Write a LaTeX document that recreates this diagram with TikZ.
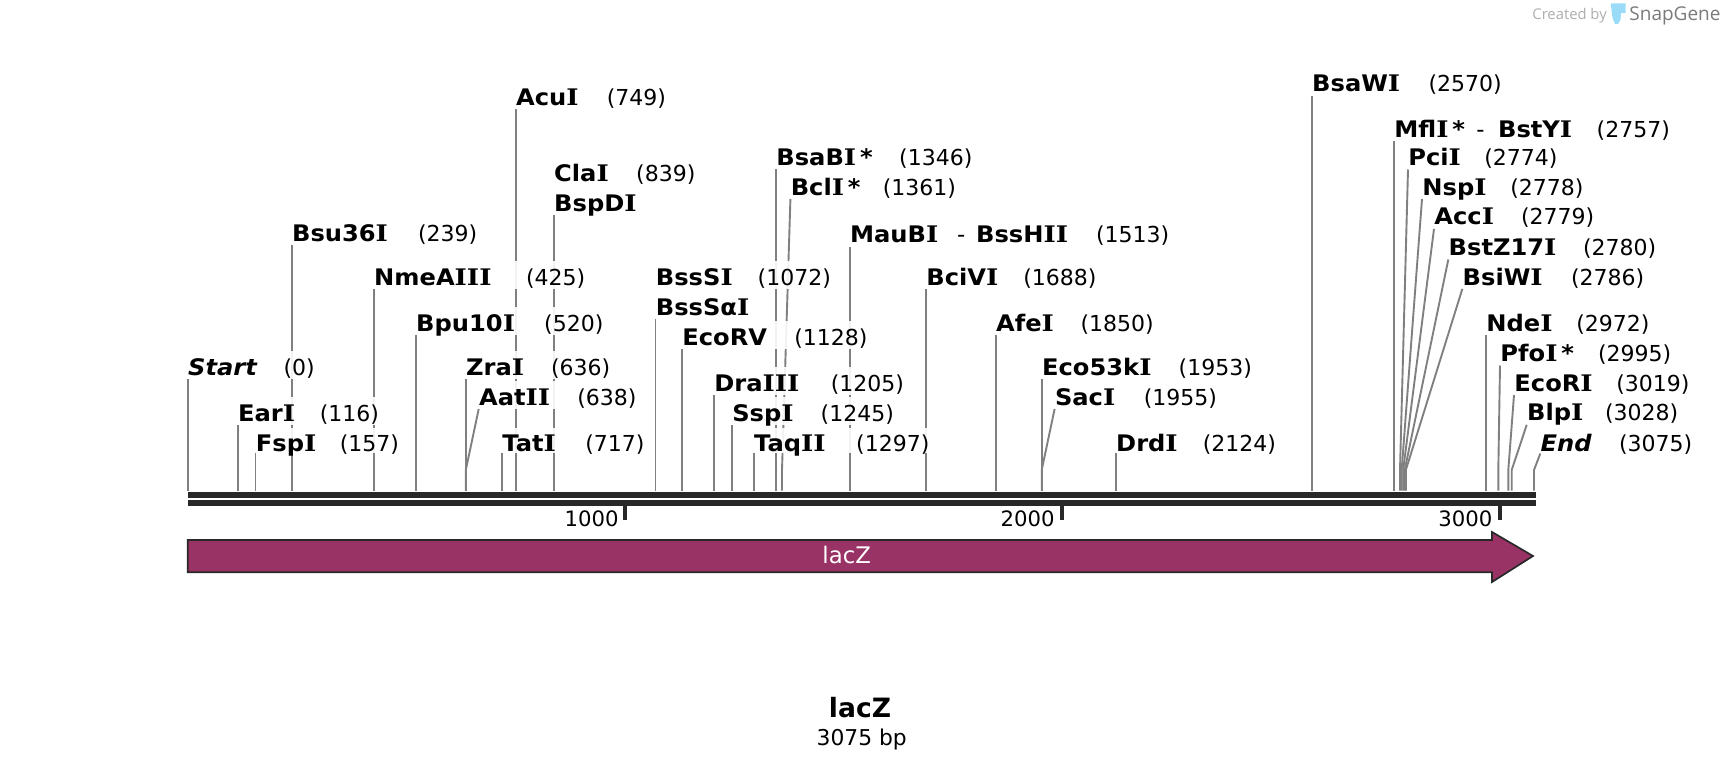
\documentclass[tikz,border=0pt]{standalone}
\usepackage{fontspec}
\usepackage{tikz}
\usetikzlibrary{backgrounds}
\setmainfont{DejaVu Sans}
\newfontfamily\namefont{DejaVu Sans}[BoldFeatures={FakeStretch=1.06},BoldItalicFeatures={FakeStretch=1.06}]
\newfontfamily\slabfont{DejaVu Serif}[BoldFeatures={FakeStretch=1.15}]
\newfontfamily\markfont{Open Sans}
\newlength{\pxu}
\setlength{\pxu}{0.5pt}
\definecolor{barcol}{HTML}{282828}
\definecolor{cutcol}{HTML}{808080}
\definecolor{lacz}{HTML}{993366}
\definecolor{iconcol}{HTML}{9ADCF8}
\newcommand{\vI}{{\slabfont\bfseries I}}
\newcommand{\nm}[1]{{\namefont\fontsize{11.4}{12}\selectfont\bfseries #1}}
\newcommand{\lab}[3]{\makebox[#3\pxu][l]{\nm{#1}}(#2)}
\tikzset{
	site/.style={anchor=south west,fill=white,fill opacity=0.9,text opacity=1,inner sep=0pt,text height=11.9pt,text depth=1.75pt,font=\fontsize{11}{12}\selectfont},
	lowsite/.style={site,text depth=0.6pt},
	rulerlab/.style={anchor=base east,inner sep=0pt,font=\fontsize{10.6}{12}\selectfont},
	cut/.style={draw=cutcol,line width=0.95pt},
	tickline/.style={draw=barcol,line width=2pt}
}

\begin{document}
\begin{tikzpicture}[x=0.5pt,y=-0.5pt]

	\useasboundingbox (0,0) rectangle (1724,770);

	% sites
	\node[site] (start) at (187.7,379) {\lab{\itshape Start}{0}{95.5}};
	\node[site] (ear) at (237.7,425) {\lab{Ear\vI}{116}{81.7}};
	\node[lowsite] (fsp) at (255.5,453) {\lab{Fsp\vI}{157}{84}};
	\node[site] (bsu) at (291.7,245) {\lab{Bsu36\vI}{239}{125.9}};
	\node[site] (nme) at (373.8,289) {\lab{NmeA\vI\vI\vI}{425}{151.8}};
	\node[site] (bpu) at (415.8,335) {\lab{Bpu10\vI}{520}{128}};
	\node[site] (zra) at (465.8,379) {\lab{Zra\vI}{636}{84.8}};
	\node[site] (aat) at (478.7,409) {\lab{Aat\vI\vI}{638}{98.2}};
	\node[lowsite] (tat) at (502,453) {\lab{Tat\vI}{717}{83}};
	\node[site] (acu) at (515.8,109) {\lab{Acu\vI}{749}{90.6}};
	\node[site] (cla) at (553.8,185) {\lab{Cla\vI}{839}{82}};
	\node[site] (bspd) at (553.8,215) {\nm{BspD\vI}};
	\node[site] (bsss) at (655.5,289) {\lab{BssS\vI}{1072}{101.8}};
	\node[site] (bssa) at (655.5,319) {\nm{BssSα\vI}};
	\node[site] (ecov) at (681.9,349) {\lab{EcoRV}{1128}{112}};
	\node[site] (dra) at (714,395) {\lab{Dra\vI\vI\vI}{1205}{116.5}};
	\node[site] (ssp) at (731.9,425) {\lab{Ssp\vI}{1245}{88.4}};
	\node[lowsite] (taq) at (753.8,453) {\lab{Taq\vI\vI}{1297}{102}};
	\node[site] (bsab) at (776,169) {\lab{BsaB\vI\,*}{1346}{122.8}};
	\node[site] (bcl) at (790.4,199) {\lab{Bcl\vI\,*}{1361}{92}};
	\node[site] (mau) at (849.7,246.7) {\lab{\makebox[107\pxu][l]{MauB\vI}\makebox[19\pxu][l]{\mdseries -}BssH\vI\vI}{1513}{246}};
	\node[site] (bci) at (926,289) {\lab{BciV\vI}{1688}{96.9}};
	\node[site] (afe) at (995.7,335) {\lab{Afe\vI}{1850}{84.4}};
	\node[site] (ecok) at (1041.7,379) {\lab{Eco53k\vI}{1953}{136.6}};
	\node[site] (sac) at (1054.6,409) {\lab{Sac\vI}{1955}{88.8}};
	\node[lowsite] (drd) at (1115.8,453) {\lab{Drd\vI}{2124}{86.6}};
	\node[site] (bsaw) at (1311.8,95.6) {\lab{BsaW\vI}{2570}{116.3}};
	\node[site] (mfl) at (1394,141) {\lab{\makebox[82\pxu][l]{Mfl\vI\,*}\makebox[21.7\pxu][l]{\mdseries -}BstY\vI}{2757}{202.3}};
	\node[site] (pci) at (1408,169.5) {\lab{Pci\vI}{2774}{76}};
	\node[site] (nsp) at (1422,199) {\lab{Nsp\vI}{2778}{88}};
	\node[site] (acc) at (1434,228.9) {\lab{Acc\vI}{2779}{86.7}};
	\node[site] (bstz) at (1448.3,259.5) {\lab{BstZ17\vI}{2780}{134.3}};
	\node[site] (bsiw) at (1462.3,289) {\lab{BsiW\vI}{2786}{108.3}};
	\node[site] (nde) at (1486,335) {\lab{Nde\vI}{2972}{90}};
	\node[site] (pfo) at (1500,365.5) {\lab{Pfo\vI\,*}{2995}{97.7}};
	\node[site] (ecoi) at (1514,395) {\lab{EcoR\vI}{3019}{102}};
	\node[site] (blp) at (1526.7,424.8) {\lab{Blp\vI}{3028}{78}};
	\node[lowsite] (end) at (1540.3,453.5) {\lab{\itshape End}{3075}{78.3}};

	% feet and knees of the slanted cuts
	\coordinate (foot) at (0,490.7);
	\coordinate (aatk) at (465.8,470);
	\coordinate (bclk) at (782,470);
	\coordinate (sack) at (1041.7,470);
	\coordinate (pcik) at (1400,469.5);
	\coordinate (nspk) at (1401.7,469.5);
	\coordinate (acck) at (1403.2,469.5);
	\coordinate (bstk) at (1404.8,469.5);
	\coordinate (bsik) at (1406,469.5);
	\coordinate (pfok) at (1498.3,470);
	\coordinate (ecok2) at (1508.3,470);
	\coordinate (blpk) at (1511.7,470);
	\coordinate (endk) at (1534,470);

	\begin{pgfonlayer}{background}
	\draw[cut] (start.south west) -- (start.south west |- foot);
	\draw[cut] (ear.south west) -- (ear.south west |- foot);
	\draw[cut] (fsp.south west) -- (fsp.south west |- foot);
	\draw[cut] (bsu.south west) -- (bsu.south west |- foot);
	\draw[cut] (nme.south west) -- (nme.south west |- foot);
	\draw[cut] (bpu.south west) -- (bpu.south west |- foot);
	\draw[cut] (zra.south west) -- (zra.south west |- foot);
	\draw[cut] (aat.south west) -- (aatk) -- (aatk |- foot);
	\draw[cut] (tat.south west) -- (tat.south west |- foot);
	\draw[cut] (acu.south west) -- (acu.south west |- foot);
	\draw[cut] (bspd.south west) -- (bspd.south west |- foot);
	\draw[cut] (bssa.south west) -- (bssa.south west |- foot);
	\draw[cut] (ecov.south west) -- (ecov.south west |- foot);
	\draw[cut] (dra.south west) -- (dra.south west |- foot);
	\draw[cut] (ssp.south west) -- (ssp.south west |- foot);
	\draw[cut] (taq.south west) -- (taq.south west |- foot);
	\draw[cut] (bsab.south west) -- (bsab.south west |- foot);
	\draw[cut] (bcl.south west) -- (bclk) -- (bclk |- foot);
	\draw[cut] (mau.south west) -- (mau.south west |- foot);
	\draw[cut] (bci.south west) -- (bci.south west |- foot);
	\draw[cut] (afe.south west) -- (afe.south west |- foot);
	\draw[cut] (ecok.south west) -- (ecok.south west |- foot);
	\draw[cut] (sac.south west) -- (sack) -- (sack |- foot);
	\draw[cut] (drd.south west) -- (drd.south west |- foot);
	\draw[cut] (bsaw.south west) -- (bsaw.south west |- foot);
	\draw[cut] (mfl.south west) -- (mfl.south west |- foot);
	\draw[cut] (pci.south west) -- (pcik) -- (pcik |- foot);
	\draw[cut] (nsp.south west) -- (nspk) -- (nspk |- foot);
	\draw[cut] (acc.south west) -- (acck) -- (acck |- foot);
	\draw[cut] (bstz.south west) -- (bstk) -- (bstk |- foot);
	\draw[cut] (bsiw.south west) -- (bsik) -- (bsik |- foot);
	\draw[cut] (nde.south west) -- (nde.south west |- foot);
	\draw[cut] (pfo.south west) -- (pfok) -- (pfok |- foot);
	\draw[cut] (ecoi.south west) -- (ecok2) -- (ecok2 |- foot);
	\draw[cut] (blp.south west) -- (blpk) -- (blpk |- foot);
	\draw[cut] (end.south west) -- (endk) -- (endk |- foot);
	\end{pgfonlayer}

	% double strand
	\fill[barcol] (187.7,492) rectangle (1536,498);
	\fill[barcol] (187.7,500) rectangle (1536,506);

	% ruler
	\node[rulerlab] (ka) at (619,526) {1000};
	\node[rulerlab] (kb) at (1055,526) {2000};
	\node[rulerlab] (kc) at (1492.7,526) {3000};
	\coordinate (kat) at (625.2,506);
	\coordinate (kab) at (625.2,520);
	\coordinate (kbt) at (1062,506);
	\coordinate (kbb) at (1062,520);
	\coordinate (kct) at (1500,506);
	\coordinate (kcb) at (1500,520);
	\draw[tickline] (kat) -- (kab);
	\draw[tickline] (kbt) -- (kbb);
	\draw[tickline] (kct) -- (kcb);

	% feature
	\draw[fill=lacz,draw=barcol,line width=0.85pt] (187.7,540)--(1492,540)--(1492,532)--(1533,556)--(1492,582)--(1492,572.3)--(187.7,572.3)--cycle;
	\node[text=white,anchor=base,inner sep=0pt,font=\fontsize{11.4}{12}\selectfont] (feat) at (846.7,563) {lacZ};

	% title
	\node[anchor=base,inner sep=0pt,font=\fontsize{13.3}{15}\selectfont\bfseries] (title) at (860,717) {lacZ};
	\node[anchor=base,inner sep=0pt,font=\fontsize{10.9}{12}\selectfont] (size) at (861.7,745) {3075 bp};

	% watermark
	\node[anchor=base west,inner sep=0pt,text=black!32,font=\markfont\fontsize{7.4}{9}\selectfont] (made) at (1532,20) {Created by};
	\fill[iconcol] (1610.7,3.5)--(1625.5,3.5)--(1625.5,13)--(1621,13)--(1620.5,20)--(1618,24)--(1615,24)--(1612.5,18)--cycle;
	\node[anchor=base west,inner sep=0pt,text=black!52,font=\markfont\fontsize{9.5}{11}\selectfont] (snap) at (1629,21) {SnapGene};

\end{tikzpicture}
\end{document}
